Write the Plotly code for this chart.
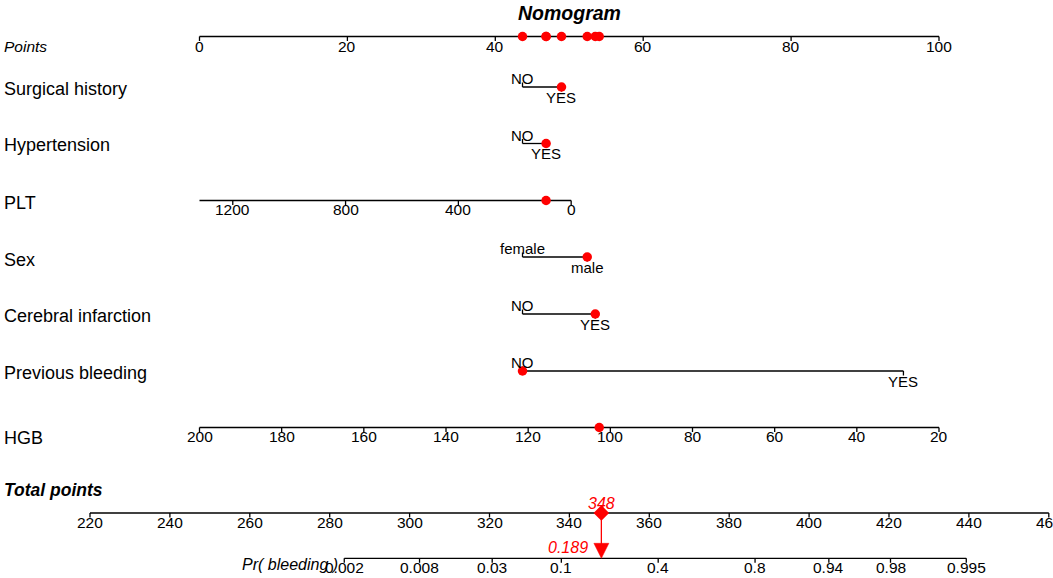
import numpy as np
import plotly.graph_objects as go

# ---------------- data ----------------
points_ticks = [0, 20, 40, 60, 80, 100]

surgical_levels = ["NO", "YES"]
surgical_points = [43.68, 48.95]
hypertension_levels = ["NO", "YES"]
hypertension_points = [43.68, 46.87]
sex_levels = ["female", "male"]
sex_points = [43.68, 52.43]
cerebral_levels = ["NO", "YES"]
cerebral_points = [43.68, 53.52]
prevbleed_levels = ["NO", "YES"]
prevbleed_points = [43.68, 95.19]

plt_ticks = [1200, 800, 400, 0]
plt_ends = [1318, 0]            # axis end values
plt_ends_points = [0.0, 50.26]  # points at those ends

hgb_ticks = [200, 180, 160, 140, 120, 100, 80, 60, 40, 20]
hgb_ends = [200, 20]
hgb_ends_points = [0.0, 100.0]

# the patient marked in red
patient = {"Surgical history": "YES", "Hypertension": "YES", "PLT": 89,
           "Sex": "male", "Cerebral infarction": "YES",
           "Previous bleeding": "NO", "HGB": 102.7}

total_ticks = [220, 240, 260, 280, 300, 320, 340, 360, 380, 400, 420, 440, 460]
total_value = 348
prob_ticks = [0.002, 0.008, 0.03, 0.1, 0.4, 0.8, 0.94, 0.98, 0.995]
prob_value = 0.189
lp_intercept = -27.174   # logit(p) = intercept + slope * total points
lp_slope = 0.0739

# ---------------- layout (pixel rows) ----------------
W, H = 1053, 578
PT0_PX, PT_PX = 199.5, 7.395      # points scale: pixel of 0, px per point
TOT0_PX, TOT_PX = 90.0, 3.995     # total scale: pixel of 220, px per point
rows = {
    "Points": (36.5, 46),
    "Surgical history": (87, 88.5),
    "Hypertension": (143.5, 145),
    "PLT": (200.5, 203),
    "Sex": (257, 260),
    "Cerebral infarction": (314, 316),
    "Previous bleeding": (371, 373),
    "HGB": (427.5, 438),
    "Total points": (513, 490),
    "Pr": (558.3, 564.5),
}
TICK = 4.5
LAB_OFF = 9
FONT = "Liberation Sans, Arial, sans-serif"
LINE_C = "#000000"
RED = "#ff0000"
ARROW_HALF_W_PX, ARROW_H_PX = 7.5, 15


def lin(v, ends, ends_pts):
    v0, v1 = ends
    p0, p1 = ends_pts
    return p0 + (np.asarray(v, dtype=float) - v0) * (p1 - p0) / (v1 - v0)


def prob_to_total(p):
    p = np.asarray(p, dtype=float)
    return (np.log(p / (1 - p)) - lp_intercept) / lp_slope


segs = {"x": ([], []), "x2": ([], [])}
ann = []


def hline(ax, x0, x1, y):
    xs, ys = segs[ax]
    xs += [x0, x1, None]
    ys += [y, y, None]


def tick(ax, x, y, down=True):
    xs, ys = segs[ax]
    xs += [x, x, None]
    ys += [y, y + (TICK if down else -TICK), None]


def text(ax, x, y, s, size=15.5, color="black", xanchor="center", xshift=0):
    ann.append(dict(x=x, y=y, xref=ax, yref="y", text=s, showarrow=False,
                    xanchor=xanchor, yanchor="middle", xshift=xshift,
                    font=dict(family=FONT, size=size, color=color)))


def row_label(name, s, size=18):
    ann.append(dict(x=2 / W, y=rows[name][1], xref="paper", yref="y", text=s,
                    showarrow=False, xanchor="left", yanchor="middle",
                    font=dict(family=FONT, size=size, color="black")))


# Points axis
y = rows["Points"][0]
hline("x", points_ticks[0], points_ticks[-1], y)
for t in points_ticks:
    tick("x", t, y)
    text("x", t, y + LAB_OFF + 0.5, str(t))

# categorical rows
cats = [("Surgical history", surgical_levels, surgical_points),
        ("Hypertension", hypertension_levels, hypertension_points),
        ("Sex", sex_levels, sex_points),
        ("Cerebral infarction", cerebral_levels, cerebral_points),
        ("Previous bleeding", prevbleed_levels, prevbleed_points)]
patient_pts = {}
for name, levels, pts in cats:
    y = rows[name][0]
    hline("x", pts[0], pts[1], y)
    tick("x", pts[0], y, down=False)
    tick("x", pts[1], y, down=True)
    text("x", pts[0], y - 8.5, levels[0], size=15)
    text("x", pts[1], y + 10, levels[1], size=15)
    patient_pts[name] = pts[levels.index(patient[name])]

# continuous rows
for name, ticks_, ends, ends_pts in [("PLT", plt_ticks, plt_ends, plt_ends_points),
                                     ("HGB", hgb_ticks, hgb_ends, hgb_ends_points)]:
    y = rows[name][0]
    e = lin(ends, ends, ends_pts)
    hline("x", e[0], e[1], y)
    for t in ticks_:
        px = float(lin(t, ends, ends_pts))
        tick("x", px, y)
        text("x", px, y + LAB_OFF, str(t))
    patient_pts[name] = float(lin(patient[name], ends, ends_pts))

# Total points axis
y = rows["Total points"][0]
hline("x2", total_ticks[0], total_ticks[-1], y)
for t in total_ticks:
    tick("x2", t, y)
    text("x2", t, y + LAB_OFF, str(t))

# Probability axis
y = rows["Pr"][0]
ptot = prob_to_total(prob_ticks)
hline("x2", float(ptot[0]), float(ptot[-1]), y)
for p, t in zip(prob_ticks, ptot):
    tick("x2", float(t), y)
    text("x2", float(t), y + LAB_OFF, f"{p:g}")

fig = go.Figure()
for ax, (xs, ys) in segs.items():
    fig.add_trace(go.Scatter(x=xs, y=ys, mode="lines", xaxis=ax, yaxis="y",
                             line=dict(color=LINE_C, width=1.3),
                             hoverinfo="skip", showlegend=False))

order = ["Surgical history", "Hypertension", "PLT", "Sex",
         "Cerebral infarction", "Previous bleeding", "HGB"]
row_x = [patient_pts[n] for n in order]
row_y = [rows[n][0] for n in order]
fig.add_trace(go.Scatter(x=row_x, y=row_y, mode="markers", xaxis="x",
                         marker=dict(color=RED, size=9.5, line=dict(width=0)),
                         showlegend=False, hoverinfo="skip"))
fig.add_trace(go.Scatter(x=row_x, y=[rows["Points"][0]] * len(row_x),
                         mode="markers", xaxis="x",
                         marker=dict(color=RED, size=9.5, line=dict(width=0)),
                         showlegend=False, hoverinfo="skip"))

# total points / probability pointer
yt, yp = rows["Total points"][0], rows["Pr"][0]
fig.add_trace(go.Scatter(x=[total_value, total_value], y=[yt, yp - ARROW_H_PX + 1],
                         mode="lines", xaxis="x2",
                         line=dict(color=RED, width=1.3),
                         showlegend=False, hoverinfo="skip"))
fig.add_trace(go.Scatter(x=[total_value], y=[yt], mode="markers", xaxis="x2",
                         marker=dict(color=RED, size=12, symbol="diamond",
                                     line=dict(width=0)),
                         showlegend=False, hoverinfo="skip"))
hw = ARROW_HALF_W_PX / TOT_PX
fig.add_trace(go.Scatter(x=[total_value - hw, total_value + hw, total_value, total_value - hw],
                         y=[yp - ARROW_H_PX, yp - ARROW_H_PX, yp, yp - ARROW_H_PX],
                         mode="lines", fill="toself", fillcolor=RED, xaxis="x2",
                         line=dict(color=RED, width=0.5),
                         showlegend=False, hoverinfo="skip"))
text("x2", total_value, yt - 10, f"<i>{total_value}</i>", size=16, color=RED)
text("x2", total_value, yp - 11, f"<i>{prob_value:g}</i>", size=16, color=RED,
     xanchor="right", xshift=-11)

# labels
ann.append(dict(x=50, y=13, xref="x", yref="y", text="<b><i>Nomogram</i></b>",
                showarrow=False, xanchor="center", yanchor="middle",
                font=dict(family=FONT, size=19.5, color="black")))
row_label("Points", "<i>Points</i>", size=15.5)
for n in order:
    row_label(n, n, size=18)
row_label("Total points", "<b><i>Total points</i></b>", size=17.5)
text("x2", float(ptot[0]), rows["Pr"][1], "<i>Pr( bleeding )</i>", size=16,
     xanchor="right", xshift=-4)

fig.update_layout(
    width=W, height=H, autosize=False,
    margin=dict(l=0, r=0, t=0, b=0, pad=0),
    paper_bgcolor="white", plot_bgcolor="white",
    xaxis=dict(range=[(0 - PT0_PX) / PT_PX, (W - PT0_PX) / PT_PX],
               visible=False, fixedrange=True),
    xaxis2=dict(range=[220 + (0 - TOT0_PX) / TOT_PX, 220 + (W - TOT0_PX) / TOT_PX],
                overlaying="x", anchor="y", visible=False, fixedrange=True),
    yaxis=dict(range=[H, 0], visible=False, fixedrange=True),
    annotations=ann,
    showlegend=False,
)

fig.write_html("out.html", config={"displayModeBar": False},
               post_script="document.body.style.margin='0px';"
                           "document.body.style.overflow='hidden';")
